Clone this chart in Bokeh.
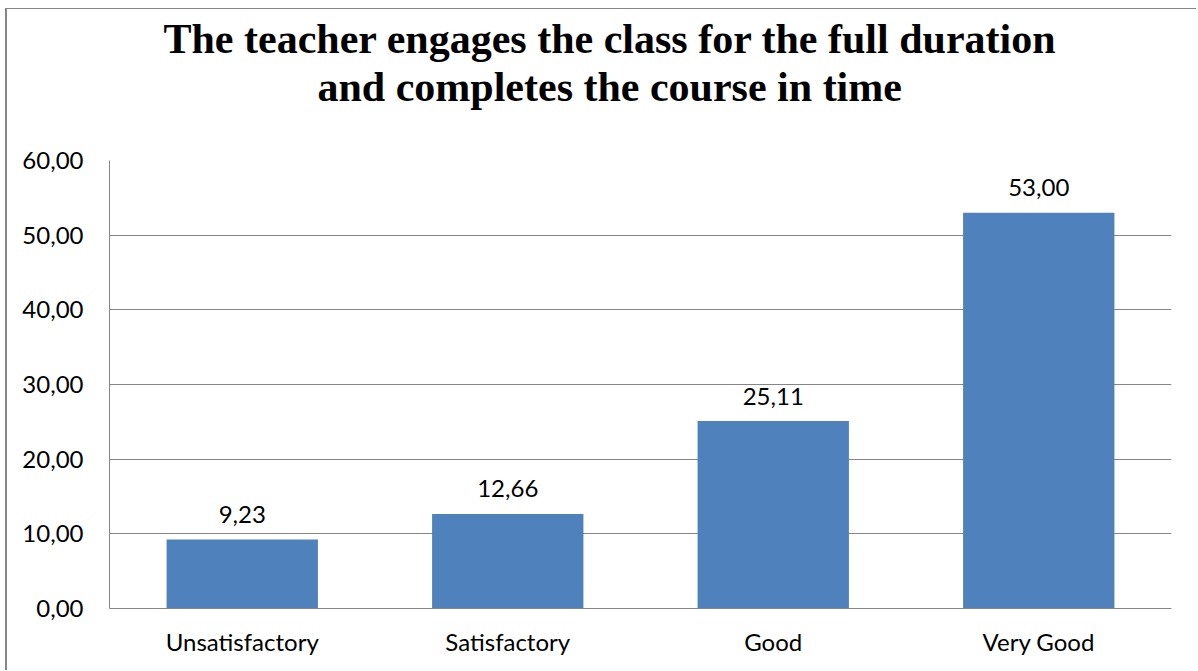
from bokeh.plotting import figure
from bokeh.models import FixedTicker, CustomJSTickFormatter, Range1d, FactorRange, ColumnDataSource, Title
from bokeh.embed import file_html
from bokeh.resources import INLINE
from bokeh.core.properties import value

# ---- data ----
categories = ["Unsatisfactory", "Satisfactory", "Good", "Very Good"]
values = [9.23, 12.66, 25.11, 53.00]
y_ticks = [0, 10, 20, 30, 40, 50, 60]
title_lines = [
    "The teacher engages the class for the full duration",
    "and completes the course in time",
]

value_labels = [f"{v:.2f}".replace(".", ",") for v in values]

BAR = "#4F81BD"
GRID = "#868686"
TICK_FONT = "Lato"
FS = "24px"

p = figure(
    x_range=FactorRange(*categories, range_padding=0),
    y_range=Range1d(0, 60),
    width=1191, height=662,
    output_backend="svg", toolbar_location=None,
    min_border_left=102, min_border_right=27,
    min_border_top=151, min_border_bottom=63,
)
p.styles = {"border-left": "2px solid #868686", "border-top": "1px solid #868686",
            "margin-left": "5px", "margin-top": "8px"}
p.outline_line_color = None
p.background_fill_color = "white"
p.border_fill_color = "white"

src = ColumnDataSource(dict(x=categories, top=values, lbl=value_labels))
p.vbar(x="x", top="top", width=0.57, source=src, fill_color=BAR, line_color=None)
p.text(x="x", y="top", text="lbl", source=src, y_offset=-25,
       text_align="center", text_baseline="alphabetic",
       text_font=value(TICK_FONT), text_font_size=FS, text_color="black")

# axes
p.xgrid.grid_line_color = None
p.ygrid.grid_line_color = GRID
p.ygrid.grid_line_width = 1
p.yaxis.ticker = FixedTicker(ticks=y_ticks)
p.yaxis.formatter = CustomJSTickFormatter(code="return tick.toFixed(2).replace('.', ',');")
for ax in (p.xaxis[0], p.yaxis[0]):
    ax.axis_line_color = GRID
    ax.axis_line_width = 1
    ax.major_tick_line_color = None
    ax.minor_tick_line_color = None
    ax.major_tick_out = 0
    ax.major_tick_in = 0
    ax.minor_tick_out = 0
    ax.major_label_text_font = TICK_FONT
    ax.major_label_text_font_size = FS
    ax.major_label_text_color = "black"
p.yaxis.major_label_standoff = 26
p.xaxis.major_label_standoff = 18

# title: blank spacer closest to the frame, then line 2, then line 1
p.title.visible = False
p.add_layout(Title(text="\u00a0", text_font_size="20px", text_color="white", standoff=27), "above")
offsets = [54, 208]
for line, off in reversed(list(zip(title_lines, offsets))):
    p.add_layout(Title(text=line, align="left", offset=off, standoff=0,
                       text_font="Liberation Serif", text_font_style="bold",
                       text_font_size="42px", text_color="black"), "above")

open("out.html", "w").write(file_html(p, INLINE))
